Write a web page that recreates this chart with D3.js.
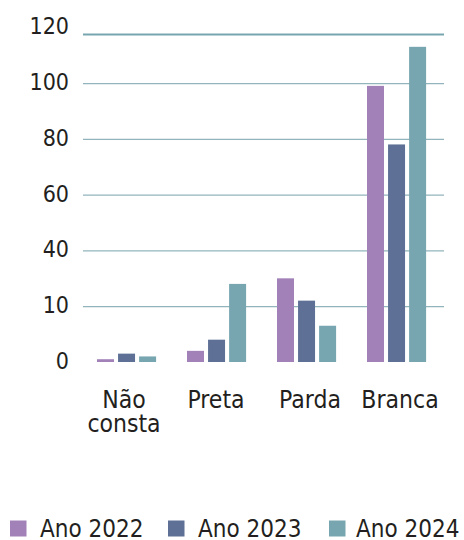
<!DOCTYPE html>
<html><head><meta charset="utf-8">
<script src="https://cdn.jsdelivr.net/npm/d3@7"></script>
<style>
html,body{margin:0;padding:0;background:#fff;}
svg{display:block;font-family:"DejaVu Sans Condensed","DejaVu Sans",sans-serif;}
</style></head>
<body><svg id="c" width="464" height="540"></svg>
<script>
const categories = ["Não consta", "Preta", "Parda", "Branca"];
const series = ["Ano 2022", "Ano 2023", "Ano 2024"];
const values2022 = [1, 4, 30, 99];
const values2023 = [3, 8, 22, 78];
const values2024 = [2, 28, 13, 113];
const tickValues = [0, 20, 40, 60, 80, 100, 120];
const tickLabels = ["0", "10", "40", "60", "80", "100", "120"];
const colors = ["#a281b9", "#5e7096", "#78a6b0"];

const allValues = [values2022, values2023, values2024];
const svg = d3.select("#c");
const left = 83, right = 444, plotTop = 34.5;
const y = d3.scaleLinear().domain([0, 120]).range([362, 27.3]);
const x0 = d3.scaleBand().domain(categories).range([left - 1, left + 359]).paddingInner(0).paddingOuter(0);
const x1 = d3.scaleBand().domain(series).range([0, 60]).paddingInner(0.15).paddingOuter(0);

// gridlines
svg.append("g").selectAll("line").data(tickValues.filter(v => v > 0 && v < 120)).join("line")
  .attr("x1", left).attr("x2", right)
  .attr("y1", d => y(d) + 0.5).attr("y2", d => y(d) + 0.5)
  .attr("stroke", "#92b5bd").attr("stroke-width", 1.2);
// top border
svg.append("line").attr("x1", left).attr("x2", right).attr("y1", plotTop).attr("y2", plotTop)
  .attr("stroke", "#78a6b0").attr("stroke-width", 2);

// y labels
svg.append("g").selectAll("text").data(tickValues).join("text")
  .attr("x", 69).attr("y", (d, i) => y(d) + 7)
  .attr("text-anchor", "end").attr("font-size", 23).attr("fill", "#231f20")
  .text((d, i) => tickLabels[i]);

// bars
const g = svg.append("g");
categories.forEach((c, ci) => {
  const cx = x0(c) + x0.bandwidth() / 2 - 30;
  series.forEach((s, si) => {
    const v = allValues[si][ci];
    g.append("rect")
      .attr("x", cx + x1(s)).attr("width", 17)
      .attr("y", y(v)).attr("height", y(0) - y(v))
      .attr("fill", colors[si]);
  });
});

// category labels
const labelShift = [-3, -1, 3, 3];
const cl = svg.append("g");
categories.forEach((c, ci) => {
  const words = c === "Não consta" ? ["Não", "consta"] : [c];
  const lx = x0(c) + x0.bandwidth() / 2 + labelShift[ci];
  const t = cl.append("text").attr("text-anchor", "middle").attr("font-size", 24.5).attr("fill", "#231f20")
    .attr("x", lx).attr("y", 408);
  words.forEach((w, i) => t.append("tspan").attr("x", lx).attr("dy", i === 0 ? 0 : 24).text(w));
});

// legend
const legX = [10, 168, 329];
const legTextX = [40, 198, 356];
const lg = svg.append("g");
series.forEach((s, i) => {
  lg.append("rect").attr("x", legX[i]).attr("y", 520.5).attr("width", 16.5).attr("height", 16).attr("fill", colors[i]);
  lg.append("text").attr("x", legTextX[i]).attr("y", 537).attr("font-size", 24).attr("fill", "#231f20").text(s);
});
</script></body></html>
